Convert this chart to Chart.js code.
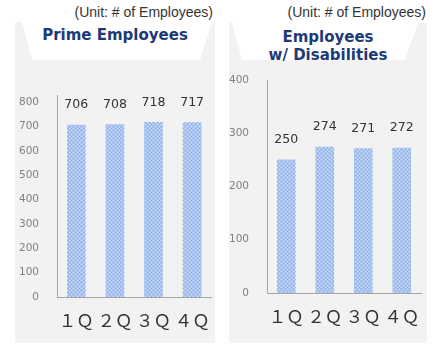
<!DOCTYPE html>
<html>
<head>
<meta charset="utf-8">
<script src="https://cdn.jsdelivr.net/npm/chart.js@4/dist/chart.umd.min.js"></script>
<style>
  html, body { margin: 0; padding: 0; background: #fff; }
  body { width: 444px; height: 345px; position: relative; overflow: hidden; }
  .unit { position: absolute; top: 4px; font: 14px "Liberation Sans", Arial, sans-serif; color: #333; white-space: nowrap; }
  .panel { position: absolute; background: #f2f2f2; }
  .cap { position: absolute; background: #fff; }
  .title { position: absolute; font: bold 15px "DejaVu Sans", Verdana, sans-serif; color: #1d3a78; text-align: center; line-height: 18px; }
  canvas { position: absolute; }
</style>
</head>
<body>
<div class="unit" style="right:231px">(Unit: # of Employees)</div>
<div class="unit" style="right:18px">(Unit: # of Employees)</div>

<div class="panel" style="left:15px;top:22px;width:200px;height:321px"></div>
<div class="cap" style="left:15px;top:22px;width:200px;height:38px;clip-path:polygon(7px 0,197px 0,185px 38px,17px 38px)"></div>
<div class="title" style="left:15px;top:26px;width:200px">Prime Employees</div>

<div class="panel" style="left:229px;top:23px;width:198px;height:320px"></div>
<div class="cap" style="left:229px;top:23px;width:198px;height:37px;clip-path:polygon(3px 0,189px 0,176px 37px,13px 37px)"></div>
<div class="title" style="left:229px;top:28px;width:198px">Employees<br>w/ Disabilities</div>

<canvas id="c1" width="200" height="321" style="left:15px;top:22px"></canvas>
<canvas id="c2" width="198" height="320" style="left:229px;top:23px"></canvas>

<script>
// quarters
const quarters = ['１Ｑ', '２Ｑ', '３Ｑ', '４Ｑ'];
// headcounts
const primeEmployees = [706, 708, 718, 717];
const disabledEmployees = [250, 274, 271, 272];

// dotted light-blue fill like the original bars
function makePattern() {
  const p = document.createElement('canvas');
  p.width = 4; p.height = 4;
  const g = p.getContext('2d');
  g.fillStyle = '#a6c2ed';
  g.fillRect(0, 0, 4, 4);
  g.fillStyle = '#dbe7f9';
  g.fillRect(0, 0, 1, 1);
  g.fillRect(2, 2, 1, 1);
  g.fillStyle = '#8fb2e6';
  g.fillRect(2, 0, 1, 1);
  g.fillRect(0, 2, 1, 1);
  return g.createPattern(p, 'repeat');
}

// value labels above the bars
const valueLabels = {
  id: 'valueLabels',
  afterDatasetsDraw(chart) {
    const ctx = chart.ctx;
    ctx.save();
    ctx.font = '12.5px "DejaVu Sans", Verdana, sans-serif';
    ctx.fillStyle = '#333';
    ctx.textAlign = 'center';
    ctx.textBaseline = 'middle';
    chart.getDatasetMeta(0).data.forEach((bar, i) => {
      ctx.fillText(chart.data.datasets[0].data[i], bar.x, bar.y - 20);
    });
    ctx.restore();
  }
};

function makeChart(id, values, max, area) {
  return new Chart(document.getElementById(id), {
    type: 'bar',
    data: {
      labels: quarters,
      datasets: [{
        data: values,
        backgroundColor: makePattern(),
        borderWidth: 0,
        barThickness: 18
      }]
    },
    options: {
      responsive: false,
      animation: false,
      layout: { padding: { top: area.top, right: area.right, left: 0, bottom: 0 } },
      plugins: { legend: { display: false }, tooltip: { enabled: false } },
      scales: {
        x: {
          grid: { display: false },
          border: { display: true, color: '#a6a6a6', width: 1 },
          ticks: {
            color: '#333',
            padding: 5,
            autoSkip: false,
            maxRotation: 0,
            font: { family: '"Noto Sans CJK JP", sans-serif', size: 17.5 }
          },
          afterFit(scale) { scale.height = area.xh; }
        },
        y: {
          min: 0,
          max: max,
          grid: { display: false },
          border: { display: true, color: '#a6a6a6', width: 1 },
          ticks: {
            stepSize: 100,
            includeBounds: false,
            color: '#808080',
            padding: 10,
            font: { family: '"DejaVu Sans", Verdana, sans-serif', size: 10.5 }
          },
          afterFit(scale) { scale.width = area.yw; }
        }
      }
    },
    plugins: [valueLabels]
  });
}

makeChart('c1', primeEmployees, 830, { top: 73, right: 3, xh: 46, yw: 42 });
makeChart('c2', disabledEmployees, 400, { top: 57, right: 6, xh: 50, yw: 38 });
</script>
</body>
</html>
